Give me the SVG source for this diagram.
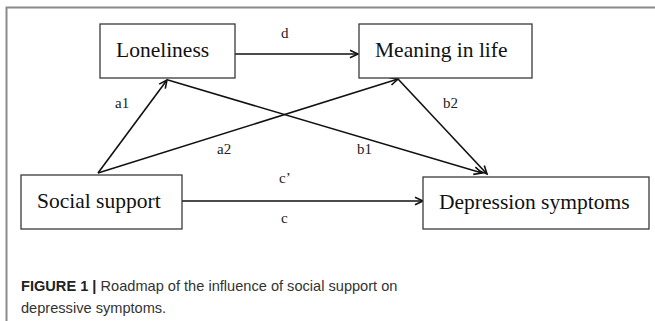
<svg xmlns="http://www.w3.org/2000/svg" width="655" height="321" viewBox="0 0 655 321">
<style>
.box{fill:#fff;stroke:#3a3a3a;stroke-width:1.3}
.nt{font-family:"Liberation Serif","Times New Roman",serif;font-size:21.5px;fill:#111}
.lb{font-family:"Liberation Serif","Times New Roman",serif;font-size:15px;fill:#222}
.cn{stroke:#111;stroke-width:1.6;fill:none}
.cap{font-family:"Liberation Sans",Arial,sans-serif;font-size:14.6px;fill:#333}
.frame{stroke:#8a8a8a;stroke-width:2;fill:none}
</style>
<defs>
<marker id="ah" markerUnits="userSpaceOnUse" markerWidth="12" markerHeight="12" viewBox="-10 -6 12 12" refX="0" refY="0" orient="auto">
<path d="M-8,-3.8 L0,0 L-8,3.8" fill="none" stroke="#111" stroke-width="1.6"/>
</marker>
</defs>
<rect width="655" height="321" fill="#fff"/>
<path class="frame" d="M6.5,321 V7.5 H655"/>
<g id="connectors">
<line class="cn" x1="235" y1="54" x2="358" y2="54" marker-end="url(#ah)"/>
<line class="cn" x1="98" y1="173" x2="167" y2="80" marker-end="url(#ah)"/>
<line class="cn" x1="98" y1="173" x2="398" y2="79" marker-end="url(#ah)"/>
<line class="cn" x1="168" y1="80" x2="482" y2="173" marker-end="url(#ah)"/>
<line class="cn" x1="398" y1="79" x2="487" y2="174" marker-end="url(#ah)"/>
<line class="cn" x1="182" y1="201" x2="423" y2="201" marker-end="url(#ah)"/>
</g>
<g id="node-loneliness">
<rect class="box" x="100" y="24" width="135" height="54"/>
<text class="nt" x="116" y="56.5">Loneliness</text>
</g>
<g id="node-meaning">
<rect class="box" x="359" y="24" width="173" height="54"/>
<text class="nt" x="375" y="56.5">Meaning in life</text>
</g>
<g id="node-social">
<rect class="box" x="21" y="175" width="161" height="54"/>
<text class="nt" x="37" y="208">Social support</text>
</g>
<g id="node-depression">
<rect class="box" x="423" y="177" width="226" height="52"/>
<text class="nt" x="439" y="209">Depression symptoms</text>
</g>
<g id="labels">
<text class="lb" x="281" y="38">d</text>
<text class="lb" x="115" y="108">a1</text>
<text class="lb" x="443" y="108">b2</text>
<text class="lb" x="217" y="154">a2</text>
<text class="lb" x="357" y="154">b1</text>
<text class="lb" x="279" y="183">c’</text>
<text class="lb" x="281" y="223">c</text>
</g>
<g id="caption">
<text class="cap" x="21" y="291"><tspan font-weight="bold" fill="#222">FIGURE 1 |</tspan> Roadmap of the influence of social support on</text>
<text class="cap" x="21" y="313">depressive symptoms.</text>
</g>
</svg>
